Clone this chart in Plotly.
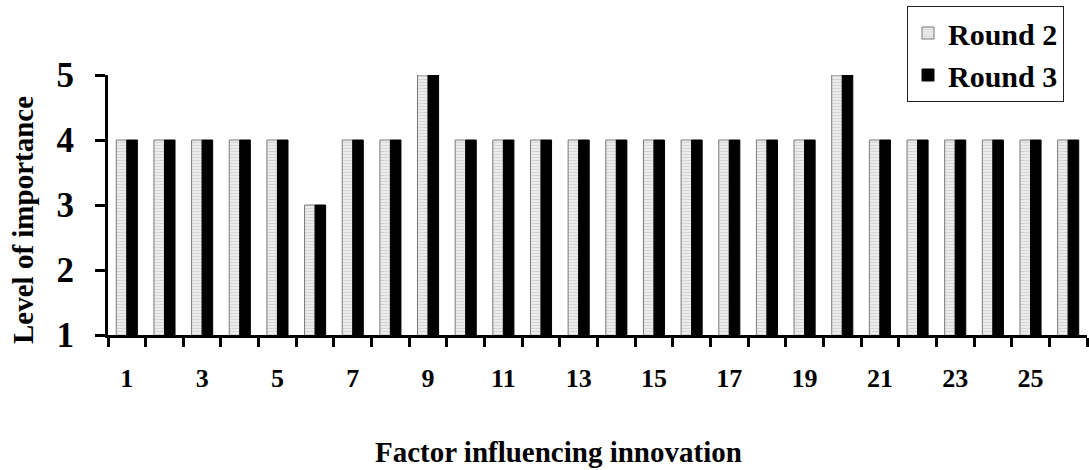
import plotly.graph_objects as go

factors = ["1", "2", "3", "4", "5", "6", "7", "8", "9", "10", "11", "12", "13",
           "14", "15", "16", "17", "18", "19", "20", "21", "22", "23", "24", "25", "26"]
round2 = [4, 4, 4, 4, 4, 3, 4, 4, 5, 4, 4, 4, 4, 4, 4, 4, 4, 4, 4, 5, 4, 4, 4, 4, 4, 4]
round3 = [4, 4, 4, 4, 4, 3, 4, 4, 5, 4, 4, 4, 4, 4, 4, 4, 4, 4, 4, 5, 4, 4, 4, 4, 4, 4]
x_ticktext = ["1", "", "3", "", "5", "", "7", "", "9", "", "11", "", "13", "",
              "15", "", "17", "", "19", "", "21", "", "23", "", "25", ""]
y_ticks = [1, 2, 3, 4, 5]

FONT = "Liberation Serif, Times New Roman, serif"

fig = go.Figure()
fig.add_trace(go.Bar(
    name="Round 2", x=factors, y=round2,
    marker=dict(color="#ebebeb",
                line=dict(color="#7a7a7a", width=1),
                pattern=dict(shape="-", fgcolor="#bdbdbd", bgcolor="#ececec",
                             size=3, solidity=0.35)),
))
fig.add_trace(go.Bar(
    name="Round 3", x=factors, y=round3,
    marker=dict(color="#000000", line=dict(color="#000000", width=1)),
))

fig.update_layout(
    width=1089, height=470,
    margin=dict(l=108, r=2, t=75, b=135),
    paper_bgcolor="white", plot_bgcolor="white",
    barmode="group", bargap=0.44, bargroupgap=0,
    font=dict(family=FONT, color="black", weight="bold"),
    showlegend=True,
    legend=dict(x=(907 - 108) / 979, xanchor="left", xref="paper",
                y=1 + (75 - 6) / 260, yanchor="top",
                bordercolor="#222222", borderwidth=1, bgcolor="white",
                font=dict(family=FONT, size=30, color="black", weight="bold"),
                tracegroupgap=2, itemwidth=30),
    xaxis=dict(type="category", tickmode="array", tickvals=factors, ticktext=x_ticktext,
               tickson="boundaries", ticks="outside", ticklen=9, tickwidth=3,
               tickcolor="black", showline=True, linecolor="black", linewidth=3,
               showgrid=False, zeroline=False, range=[-0.5, 25.5],
               tickfont=dict(family=FONT, size=26, color="black", weight="bold"),
               ticklabelstandoff=18),
    yaxis=dict(range=[1, 5], tickmode="array", tickvals=y_ticks, ticks="outside",
               ticklen=10, tickwidth=3, tickcolor="black", showline=True,
               linecolor="black", linewidth=3, showgrid=False, zeroline=False,
               tickfont=dict(family=FONT, size=35, color="black", weight="bold"),
               ticklabelstandoff=14),
    annotations=[
        dict(text="Level of importance", xref="paper", yref="paper",
             x=(23 - 108) / 979, y=(335 - 220) / 260, textangle=-90,
             showarrow=False, xanchor="center", yanchor="middle",
             font=dict(family=FONT, size=29, color="black", weight="bold")),
        dict(text="Factor influencing innovation", xref="paper", yref="paper",
             x=(558 - 108) / 979, y=(335 - 452) / 260,
             showarrow=False, xanchor="center", yanchor="middle",
             font=dict(family=FONT, size=29, color="black", weight="bold")),
    ],
)

fig.write_html("out.html")
